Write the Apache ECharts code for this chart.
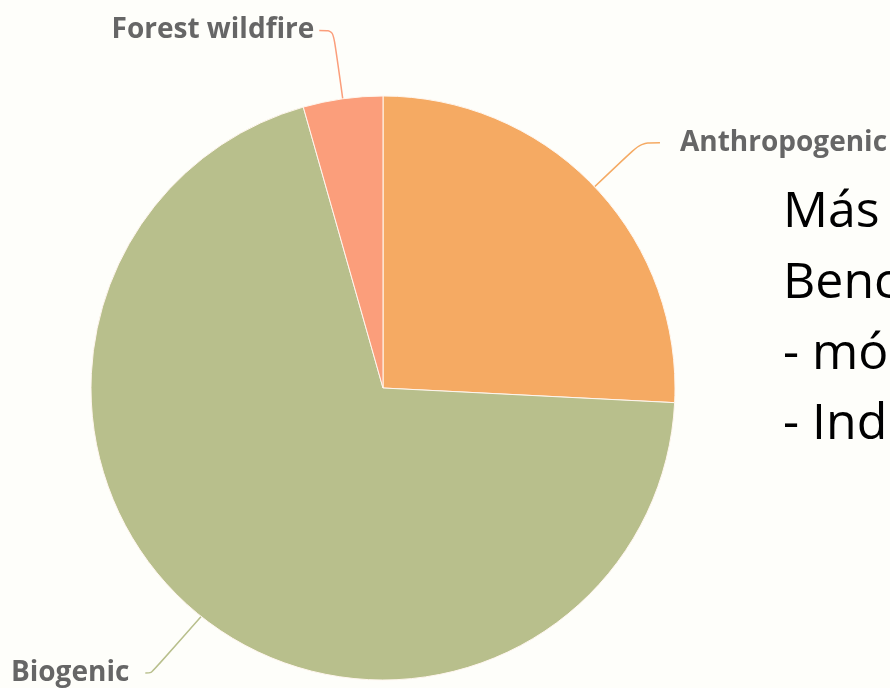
<!DOCTYPE html>
<html>
<head>
<meta charset="utf-8">
<script src="https://cdn.jsdelivr.net/npm/echarts@6/dist/echarts.min.js"></script>
<style>
html,body{margin:0;padding:0;background:#fefefa;}
#chart{width:890px;height:688px;}
</style>
</head>
<body>
<div id="chart"></div>
<script>
const categories = ['Anthropogenic', 'Biogenic', 'Forest wildfire'];
const values = [25.8, 69.8, 4.4];
const colors = ['#f5aa63', '#b8bf8c', '#fb9e7b'];
const sideLines = ['Más', 'Benc', '- mó', '- Ind'];

const lineLen = [64, 80, 69];
const lineLen2 = [19, 6, 14];
const labelGap = [20, 16, 5];

const chart = echarts.init(document.getElementById('chart'));
chart.setOption({
  backgroundColor: '#fefefa',
  animation: false,
  graphic: sideLines.map((t, i) => ({
    type: 'text',
    x: 783,
    y: 213 + i * 70.7,
    style: { text: t, fill: '#000', font: '50px "Open Sans", sans-serif', verticalAlign: 'middle', align: 'left' }
  })),
  series: [{
    type: 'pie',
    center: [383, 388],
    radius: 292,
    startAngle: 90,
    clockwise: true,
    data: categories.map((c, i) => ({
      name: c,
      value: values[i],
      itemStyle: { color: colors[i] },
      label: { distanceToLabelLine: labelGap[i] },
      labelLine: { length: lineLen[i], length2: lineLen2[i] }
    })),
    itemStyle: { borderColor: '#fff6ee', borderWidth: 1 },
    label: {
      show: true,
      formatter: '{b}',
      color: '#666',
      fontWeight: 'bold',
      fontSize: 28,
      fontFamily: 'Open Sans',
      overflow: 'none',
      edgeDistance: 0
    },
    labelLine: { show: true, smooth: true, lineStyle: { width: 1.5 } }
  }]
});
</script>
</body>
</html>
